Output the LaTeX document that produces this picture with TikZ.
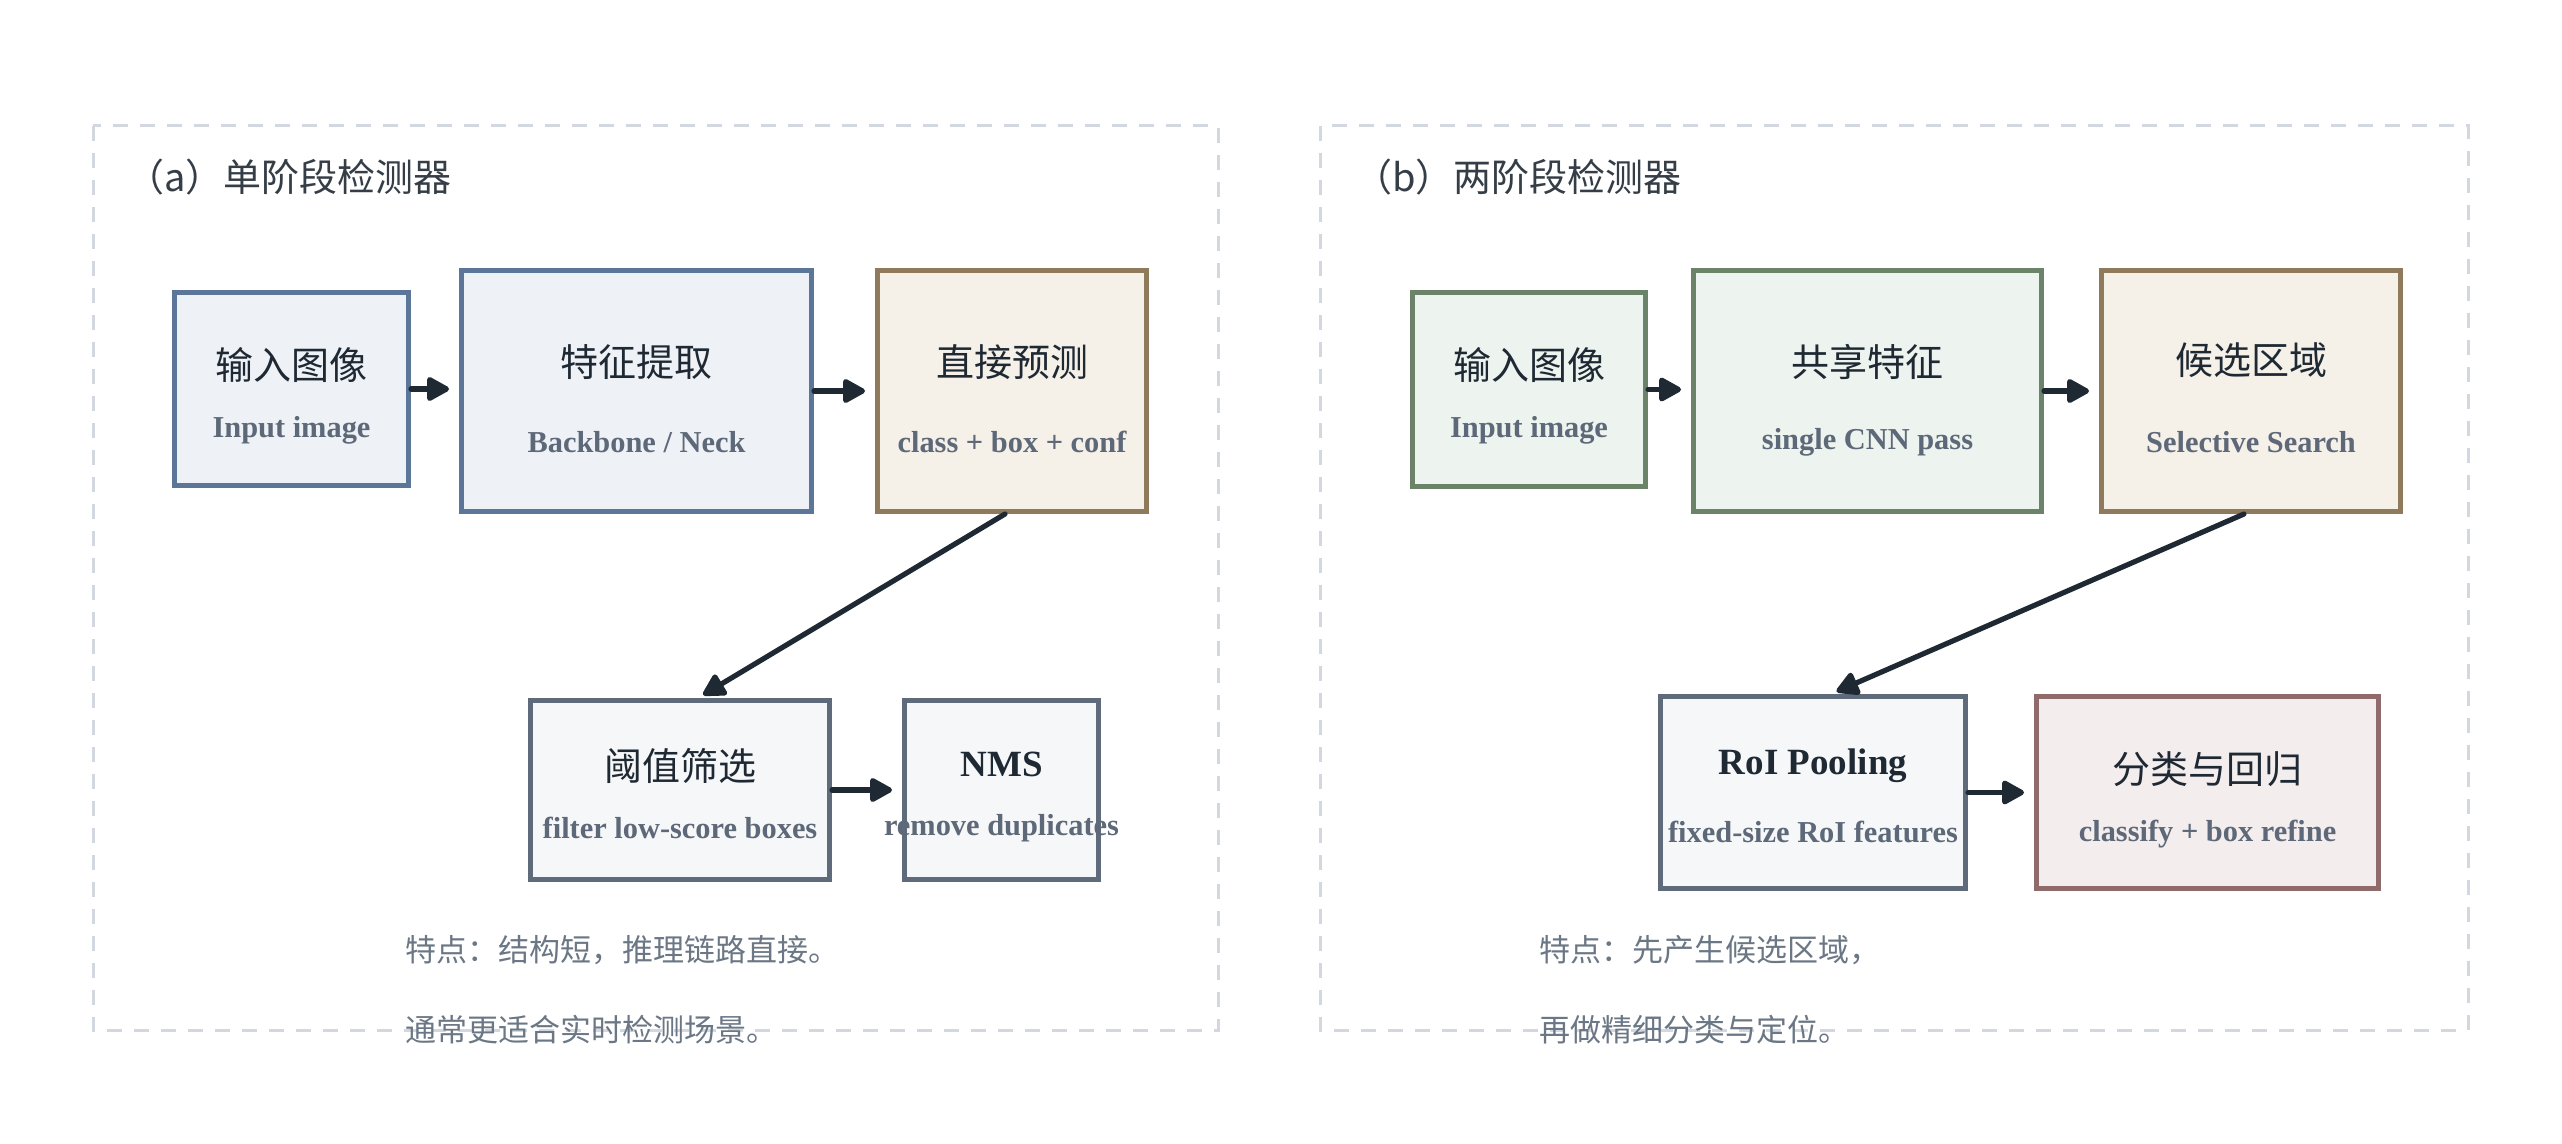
\documentclass[tikz,border=0pt]{standalone}
\usepackage{fontspec}
\setmainfont{Liberation Serif}
\newfontfamily\cjk{Noto Sans CJK SC}
\usetikzlibrary{arrows.meta,calc}
\definecolor{ink}{HTML}{1F2933}
\definecolor{subgray}{HTML}{5D6878}
\definecolor{notegray}{HTML}{6B7785}
\definecolor{dashgray}{HTML}{D3D8E0}
\definecolor{blueB}{HTML}{5B7699}
\definecolor{blueF}{HTML}{EEF2F7}
\definecolor{greenB}{HTML}{6B8369}
\definecolor{greenF}{HTML}{EDF3EE}
\definecolor{brownB}{HTML}{907A5C}
\definecolor{brownF}{HTML}{F5F0E8}
\definecolor{slateB}{HTML}{5F6B7A}
\definecolor{slateF}{HTML}{F6F7F9}
\definecolor{redB}{HTML}{8F6B6B}
\definecolor{redF}{HTML}{F4EDED}
\newcommand\fmaincjk{\cjk\fontsize{19}{22}\selectfont}
\newcommand\fmainen{\bfseries\fontsize{18.5}{22}\selectfont}
\newcommand\fsuben{\bfseries\fontsize{15.2}{18}\selectfont}
\newcommand\ftitlecjk{\cjk\fontsize{19}{22}\selectfont}
\newcommand\fnotecjk{\cjk\fontsize{15.5}{18}\selectfont}
\begin{document}
\begin{tikzpicture}[x=0.5pt,y=-0.5pt,
  panel/.style={draw=dashgray, line width=1.5pt, dash pattern=on 7.5pt off 6pt},
  boxbase/.style={draw, line width=2.5pt, inner sep=0pt},
  bluebox/.style={boxbase, draw=blueB, fill=blueF},
  greenbox/.style={boxbase, draw=greenB, fill=greenF},
  brownbox/.style={boxbase, draw=brownB, fill=brownF},
  slatebox/.style={boxbase, draw=slateB, fill=slateF},
  redbox/.style={boxbase, draw=redB, fill=redF},
  maincjk/.style={inner sep=0pt, text=ink, font=\fmaincjk},
  mainen/.style={inner sep=0pt, text=ink, font=\fmainen},
  suben/.style={inner sep=0pt, text=subgray, font=\fsuben},
  paneltitle/.style={inner sep=0pt, anchor=west, text=ink!90, font=\ftitlecjk},
  note/.style={inner sep=0pt, anchor=west, text=notegray, font=\fnotecjk},
  flow/.style={draw=ink, line width=2.6pt, line cap=round,
    -{Triangle[length=12.5pt, width=13pt, round]}, shorten >=5pt}
]
\useasboundingbox (0,0) rectangle (2562,1144);
\fill[white] (0,0) rectangle (2562,1144);

% panels
\draw[panel] (93,126) rectangle (1218,1030);
\draw[panel] (1320,126) rectangle (2468,1030);
\node[paneltitle] (ta) at (126,177) {（a）单阶段检测器};
\node[paneltitle] (tb) at (1354,177) {（b）两阶段检测器};

% panel a boxes
\node[bluebox, minimum width=117pt, minimum height=96.5pt] (in1) at (291.5,389) {};
\node[bluebox, minimum width=175pt, minimum height=120.5pt] (feat) at (636.5,391) {};
\node[brownbox, minimum width=134.5pt, minimum height=120.5pt] (pred) at (1012,391) {};
\node[slatebox, minimum width=149.5pt, minimum height=89.5pt] (filt) at (680,790) {};
\node[slatebox, minimum width=97pt, minimum height=89.5pt] (nms) at (1001.5,790) {};

\node[maincjk] (in1t) at (291.5,365) {输入图像};
\node[suben] (in1s) at (291.5,430) {Input image};
\node[maincjk] (featt) at (636.5,362) {特征提取};
\node[suben] (feats) at (636.5,442) {Backbone / Neck};
\node[maincjk] (predt) at (1012,362) {直接预测};
\node[suben] (preds) at (1012,442) {class + box + conf};
\node[maincjk] (filtt) at (680,766) {阈值筛选};
\node[suben] (filts) at (680,828) {filter low-score boxes};
\node[mainen] (nmst) at (1001.5,764) {NMS};
\node[suben] (nmss) at (1001.5,828) {remove duplicates};

\draw[flow] (in1.east) -- (in1.east -| feat.west);
\draw[flow] (feat.east) -- (pred.west);
\draw[flow, shorten >=3pt] ([xshift=-3.5pt]pred.south) -- ([xshift=9pt]filt.north);
\draw[flow] (filt.east) -- (nms.west);

\node[note] (na1) at (405,950) {特点：结构短，推理链路直接。};
\node[note] (na2) at (405,1030) {通常更适合实时检测场景。};

% panel b boxes
\node[greenbox, minimum width=116.5pt, minimum height=97pt] (in2) at (1529,389.5) {};
\node[greenbox, minimum width=174pt, minimum height=120.5pt] (share) at (1867.5,391) {};
\node[brownbox, minimum width=149.5pt, minimum height=120.5pt] (prop) at (2251,391) {};
\node[slatebox, minimum width=152.5pt, minimum height=96pt] (roi) at (1813,792.5) {};
\node[redbox, minimum width=171pt, minimum height=96pt] (cls) at (2207.5,792.5) {};

\node[maincjk] (in2t) at (1529,365) {输入图像};
\node[suben] (in2s) at (1529,430) {Input image};
\node[maincjk] (sharet) at (1867.5,362) {共享特征};
\node[suben] (shares) at (1867.5,442) {single CNN pass};
\node[maincjk] (propt) at (2251,360) {候选区域};
\node[suben] (props) at (2251,442) {Selective Search};
\node[mainen] (roit) at (1813,766) {RoI Pooling};
\node[suben] (rois) at (1813,832) {fixed-size RoI features};
\node[maincjk] (clst) at (2207.5,769) {分类与回归};
\node[suben] (clss) at (2207.5,834) {classify + box refine};

\draw[flow] (in2.east) -- (in2.east -| share.west);
\draw[flow] (share.east) -- (prop.west);
\draw[flow, shorten >=3pt] ([xshift=-3.5pt]prop.south) -- ([xshift=9pt]roi.north);
\draw[flow] (roi.east) -- (roi.east -| cls.west);

\node[note] (nb1) at (1539,950) {特点：先产生候选区域，};
\node[note] (nb2) at (1539,1030) {再做精细分类与定位。};
\end{tikzpicture}
\end{document}
